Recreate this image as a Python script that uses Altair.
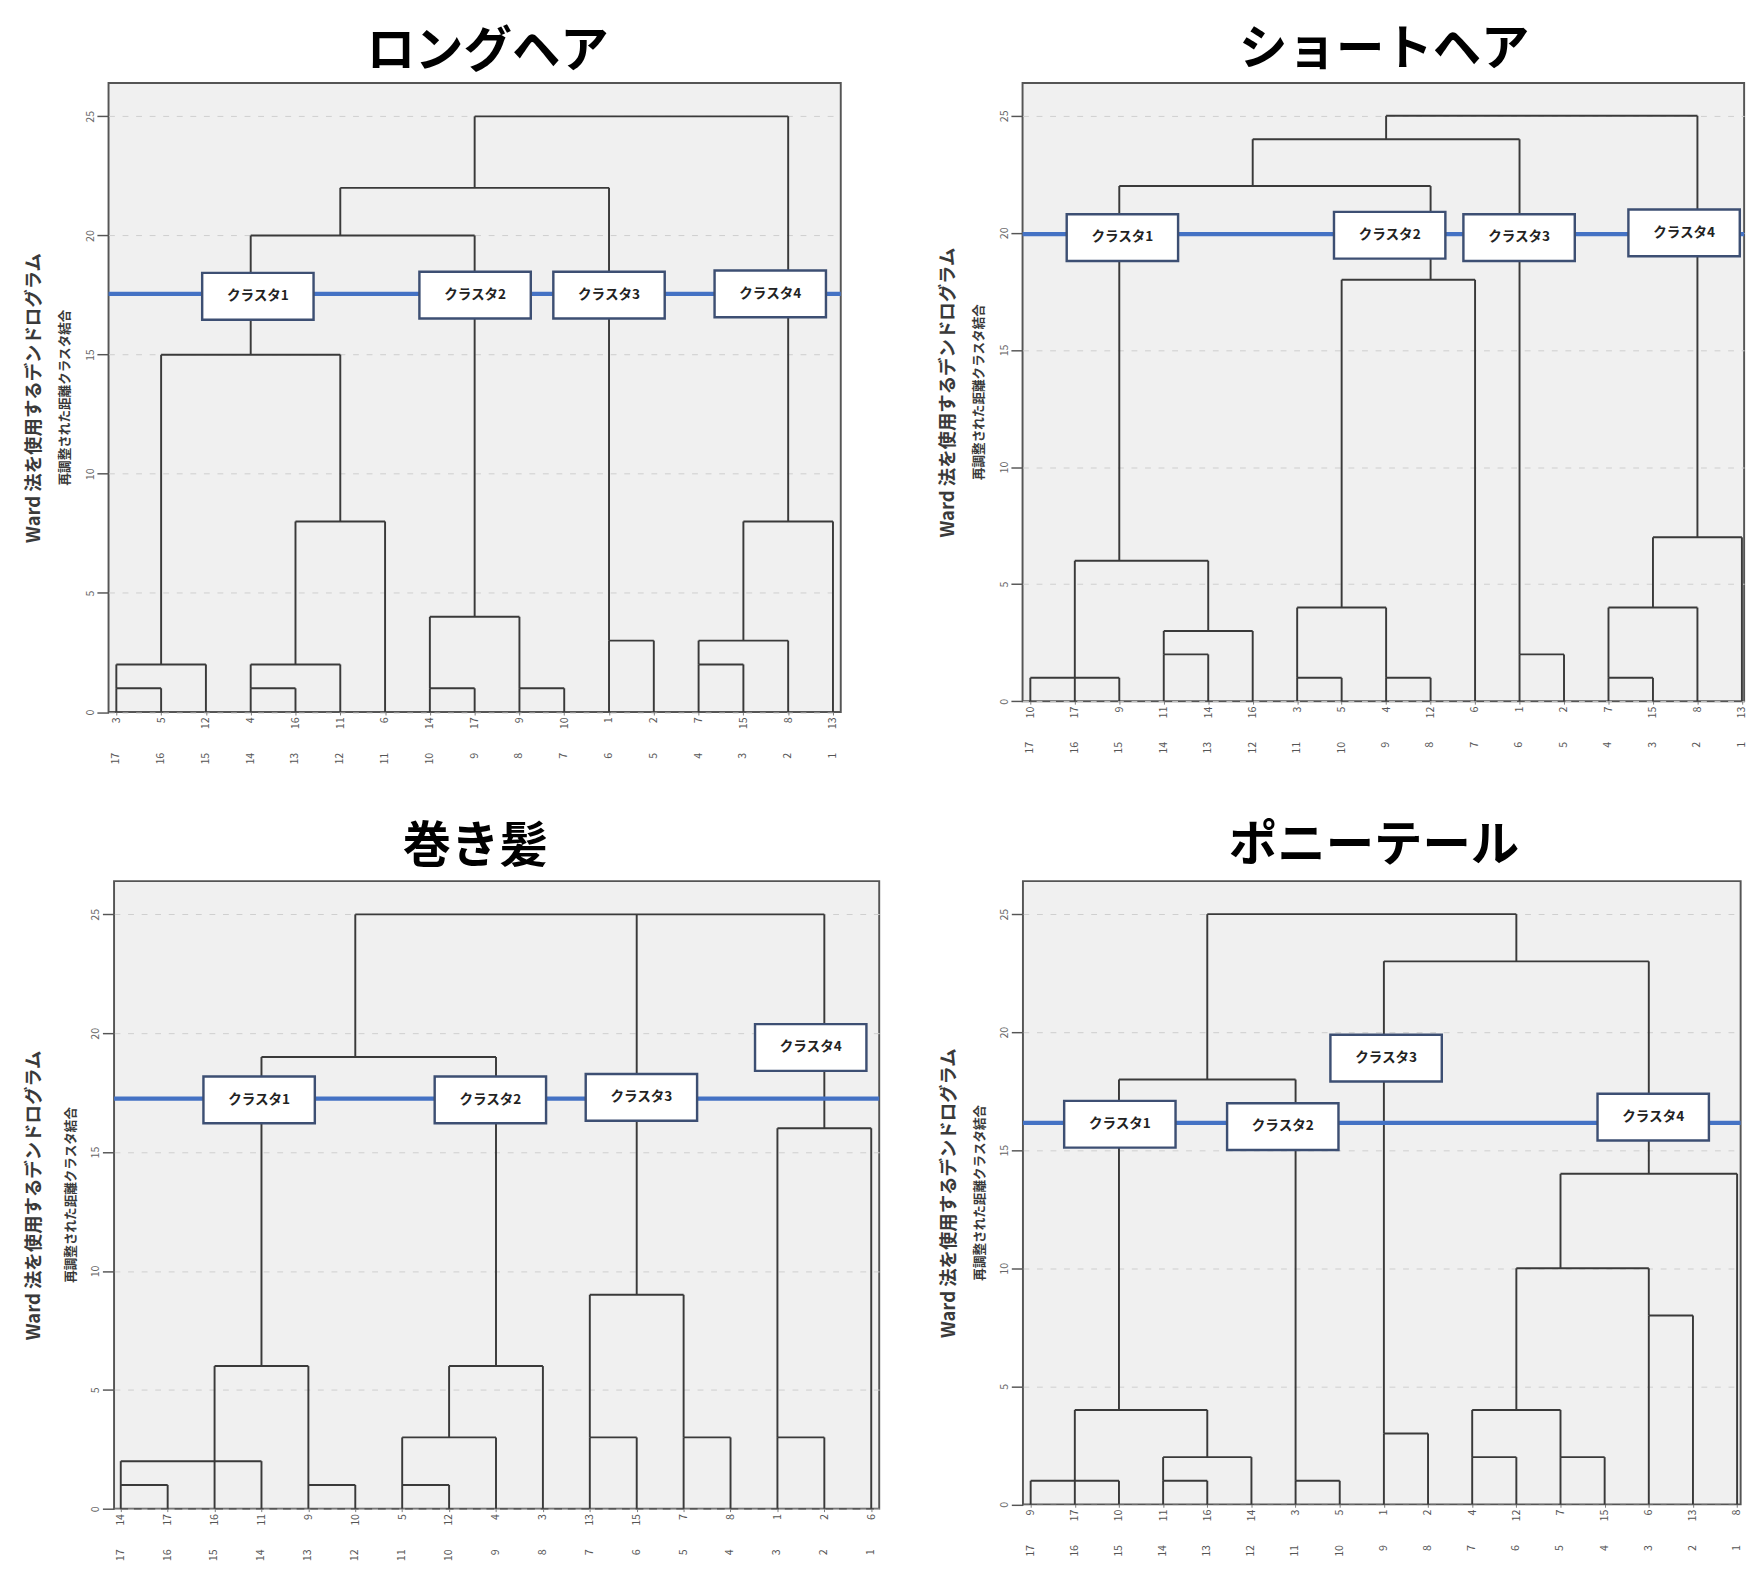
import altair as alt
import pandas as pd

FONT = "Noto Sans CJK JP"

# ---------------- data ----------------
panel_titles = ["ロングヘア", "ショートヘア", "巻き髪", "ポニーテール"]
y_title = "Ward 法を使用するデンドログラム"
y_subtitle = "再調整された距離クラスタ結合"
cluster_names = ["クラスタ1", "クラスタ2", "クラスタ3", "クラスタ4"]
case_numbers = ["17", "16", "15", "14", "13", "12", "11", "10", "9",
                "8", "7", "6", "5", "4", "3", "2", "1"]
y_ticks = [0, 5, 10, 15, 20, 25]

# ロングヘア
long_leaves = ["3", "5", "12", "4", "16", "11", "6", "14", "17", "9", "10", "1", "2", "7", "15", "8", "13"]
long_heights = [1, 2, 1, 2, 8, 15, 1, 1, 4, 20, 3, 22, 2, 3, 8, 25]
long_nodes = [0, 1, 3, 4, 5, 3, 7, 9, 8, 5, 11, 8, 13, 14, 15, None]
long_children = ["L0 L1", "M0 L2", "L3 L4", "M2 L5", "M3 L6", "M1 M4", "L7 L8", "L9 L10",
                 "M6 M7", "M5 M8", "L11 L12", "M9 M10", "L13 L14", "M12 L15", "M13 L16", "M11 M14"]
long_cut = 17.55
long_box_x = [3.16, 8.01, 11.0, 14.6]
long_box_h = [17.45, 17.5, 17.5, 17.55]

# ショートヘア
short_leaves = ["10", "17", "9", "11", "14", "16", "3", "5", "4", "12", "6", "1", "2", "7", "15", "8", "13"]
short_heights = [1, 2, 3, 6, 1, 1, 4, 18, 22, 2, 24, 1, 4, 7, 25]
short_nodes = [1, 3, 4, 2, 6, 8, 7, 9, 5, 11, 8, 13, 14, 15, None]
short_children = ["L0 L1 L2", "L3 L4", "M1 L5", "M0 M2", "L6 L7", "L8 L9", "M4 M5", "M6 L10",
                  "M3 M7", "L11 L12", "M8 M9", "L13 L14", "M11 L15", "M12 L16", "M10 M13"]
short_cut = 19.95
short_box_x = [2.07, 8.08, 10.99, 14.7]
short_box_h = [19.8, 19.9, 19.8, 20.0]

# 巻き髪
curl_leaves = ["14", "17", "16", "11", "9", "10", "5", "12", "4", "3", "13", "15", "7", "8", "1", "2", "6"]
curl_heights = [1, 2, 1, 6, 1, 3, 6, 19, 3, 3, 9, 3, 16, 25]
curl_nodes = [0, 2, 4, 3, 6, 7, 8, 5, 10, 12, 11, 14, 15, None]
curl_children = ["L0 L1", "M0 L2 L3", "L4 L5", "M1 M2", "L6 L7", "M4 L8", "M5 L9", "M3 M6",
                 "L10 L11", "L12 L13", "M8 M9", "L14 L15", "M11 L16", "M7 M10 M12"]
curl_cut = 17.25
curl_box_x = [2.95, 7.88, 11.1, 14.71]
curl_box_h = [17.2, 17.2, 17.3, 19.4]

# ポニーテール
pony_leaves = ["9", "17", "10", "11", "16", "14", "3", "5", "1", "2", "4", "12", "7", "15", "6", "13", "8"]
pony_heights = [1, 1, 2, 4, 1, 18, 3, 2, 2, 4, 8, 10, 14, 23, 25]
pony_nodes = [1, 3, 4, 2, 6, 4, 8, 10, 12, 11, 14, 12, 14, 11, None]
pony_children = ["L0 L1 L2", "L3 L4", "M1 L5", "M0 M2", "L6 L7", "M3 M4", "L8 L9", "L10 L11",
                 "L12 L13", "M7 M8", "L14 L15", "M9 M10", "M11 L16", "M6 M12", "M5 M13"]
pony_cut = 16.16
pony_box_x = [2.02, 5.71, 8.05, 14.1]
pony_box_h = [16.1, 16.0, 18.9, 16.4]

# ---------------- helpers ----------------
BOX_SHAPE = "M-1,-0.42L1,-0.42L1,0.42L-1,0.42Z"
LINE_COLOR = "#3a3a3a"
CUT_COLOR = "#4472c4"


def build_segments(heights, nodes, children, n_leaves):
    pos = {f"L{i}": (i, 0.0) for i in range(n_leaves)}
    rows = []
    for k, (h, n, ch) in enumerate(zip(heights, nodes, children)):
        xs = []
        for c in ch.split():
            cx, chh = pos[c]
            rows.append({"x": cx, "x2": cx, "y": chh, "y2": h})
            xs.append(cx)
        rows.append({"x": min(xs), "x2": max(xs), "y": h, "y2": h})
        if n is not None:
            pos[f"M{k}"] = (n, h)
    return pd.DataFrame(rows)


def panel(title, leaves, heights, nodes, children, cut, box_x, box_h,
          W, H, xdom, tpad, tdx, toff):
    n = len(leaves)
    seg = build_segments(heights, nodes, children, n)
    xscale = alt.Scale(domain=xdom, nice=False, zero=False)
    yscale = alt.Scale(domain=[0, 26.4], nice=False, zero=False)
    label_expr = "[" + ",".join(f"'{l}'" for l in leaves) + "][datum.value]"
    xaxis = alt.Axis(values=list(range(n)), labelExpr=label_expr, labelAngle=270,
                     labelAlign="right", labelBaseline="middle",
                     tickSize=3, tickColor="#777", labelPadding=2, domain=False,
                     grid=False, title=None, labelFontSize=11, labelColor="#555",
                     labelFont=FONT, labelOverlap=False)
    yaxis = alt.Axis(values=y_ticks, labelAngle=270, labelAlign="center",
                     labelBaseline="bottom", tickSize=12, tickColor="#555",
                     tickWidth=1.5, labelPadding=2, labelFontSize=11,
                     labelColor="#666", labelFont=FONT, domain=False,
                     grid=True, gridDash=[6, 8], gridColor="#cdcdcd",
                     title=y_title, titleFontSize=19, titleFont=FONT,
                     titleFontWeight="bold", titleColor="#3a3a3a",
                     titlePadding=tpad)

    def X(f):
        return alt.X(f, scale=xscale, axis=xaxis)

    def Y(f):
        return alt.Y(f, scale=yscale, axis=yaxis)

    lines = alt.Chart(seg).mark_rule(color=LINE_COLOR, strokeWidth=2).encode(
        x=X("x:Q"), x2="x2:Q", y=Y("y:Q"), y2="y2:Q")

    cut_df = pd.DataFrame({"cut": [cut]})
    cut_line = alt.Chart(cut_df).mark_rule(color=CUT_COLOR, strokeWidth=4.5).encode(
        y=Y("cut:Q"))

    box_df = pd.DataFrame({"bx": box_x, "bh": box_h, "name": cluster_names})
    boxes = alt.Chart(box_df).mark_point(
        shape=BOX_SHAPE, size=13225, filled=True, fill="white", opacity=1,
        stroke="#3d4f73", strokeWidth=2.5).encode(x=X("bx:Q"), y=Y("bh:Q"))
    box_text = alt.Chart(box_df).mark_text(
        fontWeight="bold", fontSize=14, color="#222", font=FONT).encode(
        x=X("bx:Q"), y=Y("bh:Q"), text="name:N")

    num_df = pd.DataFrame({"i": list(range(n)), "num": case_numbers})
    nums = alt.Chart(num_df).mark_text(
        angle=270, align="right", baseline="middle", fontSize=11,
        color="#555", font=FONT).encode(
        x=X("i:Q"), y=alt.value(H + 42), text="num:N")

    sub_df = pd.DataFrame({"t": [y_subtitle]})
    sub = alt.Chart(sub_df).mark_text(
        angle=270, align="center", baseline="middle", fontSize=13,
        fontWeight="bold", color="#3a3a3a", font=FONT).encode(
        x=alt.value(-44.6), y=alt.value(H / 2), text="t:N")

    return alt.layer(lines, cut_line, boxes, box_text, nums, sub).properties(
        width=W, height=H,
        title=alt.TitleParams(title, fontSize=50, fontWeight="bold", font=FONT,
                              anchor="middle", frame="group", offset=toff,
                              dx=tdx, color="#000"))


def spacer():
    return alt.Chart(pd.DataFrame({"s": [0]})).mark_point(size=0, opacity=0).encode(
        x=alt.value(0), y=alt.value(0)).properties(
        width=1, height=1,
        view=alt.ViewBackground(fill="transparent", stroke="transparent"))


p1 = panel(panel_titles[0], long_leaves, long_heights, long_nodes, long_children,
           long_cut, long_box_x, long_box_h, 756, 649.5, [-0.174, 16.174], 42, 13.5, 7)
p2 = panel(panel_titles[1], short_leaves, short_heights, short_nodes, short_children,
           short_cut, short_box_x, short_box_h, 745, 638.3, [-0.175, 16.05], 42, 1, 8.1)
p3 = panel(panel_titles[2], curl_leaves, curl_heights, curl_nodes, curl_children,
           curl_cut, curl_box_x, curl_box_h, 790, 648, [-0.143, 16.17], 48, -22, 9.7)
p4 = panel(panel_titles[3], pony_leaves, pony_heights, pony_nodes, pony_children,
           pony_cut, pony_box_x, pony_box_h, 741, 643.5, [-0.175, 16.08], 42, -8, 10.9)

row1 = alt.hconcat(alt.hconcat(spacer(), p1, spacing=7.3), p2, spacing=97)
row2 = alt.hconcat(alt.hconcat(spacer(), p3, spacing=7.0), p4, spacing=57.4)

chart = alt.vconcat(row1, row2, spacing=57).properties(
    padding={"left": 6.5, "top": -8.2, "right": 0, "bottom": 0}
).configure(font=FONT).configure_view(fill="#f0f0f0", stroke="#555", strokeWidth=2)

chart.save("out.html", embed_options={"renderer": "svg", "actions": False})
